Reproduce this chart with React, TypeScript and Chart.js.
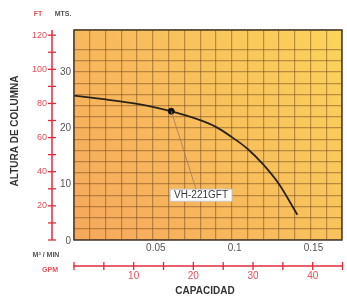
import React, { useEffect, useRef } from 'react';
import Chart from 'chart.js/auto';

// Pump curve (m³/min vs metres of head)
const flowM3min = [0, 0.02, 0.04, 0.06, 0.08, 0.09, 0.1, 0.11, 0.12, 0.13, 0.1417];
const headM = [25.8, 25.1, 24.3, 23.1, 21.4, 20.2, 18.4, 16.3, 13.5, 10.0, 4.5];
const markerFlow = [0.0617];
const markerHead = [23.0];
const modelName = 'VH-221GFT';
const labelFlow = 0.0806;
const labelHead = 8.0;

const xMin = 0;
const xMax = 0.17;
const yMin = 0;
const yMax = 37.5;
const xLabelTicks = [0.05, 0.1, 0.15];
const mLabelTicks = [0, 10, 20, 30];
const ftLabelTicks = [20, 40, 60, 80, 100, 120];
const ftTickMarks = [0, 10, 20, 30, 40, 50, 60, 70, 80, 90, 100, 110, 120];
const gpmLabelTicks = [10, 20, 30, 40];
const gpmTickMarks = [0, 5, 10, 15, 20, 25, 30, 35, 40, 45];

const M_PER_FT = 0.3048;
const M3MIN_PER_GPM = 0.00378541;

const RED_LINE = '#e02a3c';
const RED_TEXT = '#e4505c';
const GRAY_TEXT = '#555555';
const DARK = '#333333';
const FONT = '"Liberation Sans Narrow", "Liberation Sans", Arial, sans-serif';
const GRID = 'rgba(120,78,32,0.5)';

const bgPlugin = {
  id: 'bgPlugin',
  beforeDraw(chart: any) {
    const { ctx, chartArea } = chart;
    const { left, top, right, bottom } = chartArea;
    const g = ctx.createLinearGradient(left, bottom, right, top);
    g.addColorStop(0, '#f6a85c');
    g.addColorStop(0.5, '#f8bd5c');
    g.addColorStop(1, '#fbd45a');
    ctx.save();
    ctx.fillStyle = g;
    ctx.fillRect(left, top, right - left, bottom - top);
    ctx.restore();
  },
};

const overlayPlugin = {
  id: 'overlayPlugin',
  afterDraw(chart: any) {
    const { ctx, chartArea } = chart;
    const { left, top, right, bottom } = chartArea;
    const xs = chart.scales.x;
    const ys = chart.scales.y;
    ctx.save();

    // frame
    ctx.strokeStyle = '#4a3c2c';
    ctx.lineWidth = 1.5;
    ctx.strokeRect(left, top, right - left, bottom - top);

    // metric y labels
    ctx.fillStyle = GRAY_TEXT;
    ctx.font = `10px ${FONT}`;
    ctx.textAlign = 'right';
    ctx.textBaseline = 'middle';
    mLabelTicks.forEach((v) => {
      ctx.fillText(String(v), left - 3, ys.getPixelForValue(v) + (v === 0 ? 1 : 0));
    });

    // metric x labels
    ctx.textAlign = 'center';
    ctx.textBaseline = 'middle';
    xLabelTicks.forEach((v) => {
      ctx.fillText(String(v), xs.getPixelForValue(v) + 3, bottom + 8);
    });

    // FT axis
    const ftX = 52;
    ctx.strokeStyle = RED_LINE;
    ctx.lineWidth = 1.5;
    ctx.beginPath();
    ctx.moveTo(ftX, top);
    ctx.lineTo(ftX, bottom);
    ctx.stroke();
    ctx.lineWidth = 1.3;
    ftTickMarks.forEach((v) => {
      const py = ys.getPixelForValue(v * M_PER_FT);
      ctx.beginPath();
      ctx.moveTo(ftX - 4, py);
      ctx.lineTo(ftX + 4, py);
      ctx.stroke();
    });
    ctx.fillStyle = RED_TEXT;
    ctx.font = `9px ${FONT}`;
    ctx.textAlign = 'right';
    ctx.textBaseline = 'middle';
    ftLabelTicks.forEach((v) => {
      ctx.fillText(String(v), ftX - 5, ys.getPixelForValue(v * M_PER_FT));
    });

    // GPM axis
    const gY = 266;
    ctx.strokeStyle = RED_LINE;
    ctx.lineWidth = 1.5;
    ctx.beginPath();
    ctx.moveTo(left - 1, gY);
    ctx.lineTo(right + 1, gY);
    ctx.stroke();
    ctx.lineWidth = 1.3;
    gpmTickMarks.forEach((v) => {
      const px = Math.min(xs.getPixelForValue(v * M3MIN_PER_GPM), right + 1);
      ctx.beginPath();
      ctx.moveTo(px, gY - 4);
      ctx.lineTo(px, gY + 4);
      ctx.stroke();
    });
    ctx.fillStyle = RED_TEXT;
    ctx.font = `10px ${FONT}`;
    ctx.textAlign = 'center';
    ctx.textBaseline = 'middle';
    gpmLabelTicks.forEach((v) => {
      ctx.fillText(String(v), xs.getPixelForValue(v * M3MIN_PER_GPM), gY + 10);
    });

    // unit labels
    ctx.font = `bold 7px ${FONT}`;
    ctx.textAlign = 'center';
    ctx.fillStyle = RED_TEXT;
    ctx.fillText('FT', 38, 14);
    ctx.fillText('GPM', 50, 270);
    ctx.fillStyle = GRAY_TEXT;
    ctx.fillText('MTS.', 63, 14);
    ctx.fillText('M³ / MIN', 46, 255);

    // titles
    ctx.fillStyle = DARK;
    ctx.font = `bold 10px "Liberation Sans", Arial, sans-serif`;
    ctx.textAlign = 'center';
    ctx.fillText('CAPACIDAD', 205, 291);
    ctx.save();
    ctx.translate(15, 131);
    ctx.rotate(-Math.PI / 2);
    ctx.fillText('ALTURA DE COLUMNA', 0, 0);
    ctx.restore();

    // annotation
    const mx = xs.getPixelForValue(markerFlow[0]);
    const my = ys.getPixelForValue(markerHead[0]);
    const lx = xs.getPixelForValue(labelFlow);
    const ly = ys.getPixelForValue(labelHead);
    ctx.font = `10px "Liberation Sans", Arial, sans-serif`;
    const tw = ctx.measureText(modelName).width;
    const bw = tw + 8;
    const bh = 12;
    ctx.strokeStyle = '#a07a58';
    ctx.lineWidth = 0.8;
    ctx.beginPath();
    ctx.moveTo(mx, my);
    ctx.lineTo(lx - 5, ly - bh / 2);
    ctx.stroke();
    ctx.fillStyle = '#ffffff';
    ctx.strokeStyle = '#c8c8c8';
    ctx.lineWidth = 1;
    ctx.fillRect(lx - bw / 2, ly - bh / 2, bw, bh);
    ctx.strokeRect(lx - bw / 2, ly - bh / 2, bw, bh);
    ctx.fillStyle = '#3a3a3a';
    ctx.textAlign = 'center';
    ctx.textBaseline = 'middle';
    ctx.fillText(modelName, lx, ly + 0.5);

    ctx.restore();
  },
};

export default function App() {
  const ref = useRef<HTMLCanvasElement | null>(null);
  useEffect(() => {
    if (!ref.current) return;
    const curve = flowM3min.map((x, i) => ({ x, y: headM[i] }));
    const marker = markerFlow.map((x, i) => ({ x, y: markerHead[i] }));
    const chart = new Chart(ref.current, {
      type: 'scatter',
      data: {
        datasets: [
          {
            data: marker,
            showLine: false,
            pointRadius: 3,
            pointBackgroundColor: '#111',
            pointBorderColor: '#111',
            order: 0,
          },
          {
            data: curve,
            showLine: true,
            borderColor: '#2b2218',
            borderWidth: 1.8,
            pointRadius: 0,
            tension: 0.4,
            cubicInterpolationMode: 'monotone',
            order: 1,
          },
        ],
      } as any,
      options: {
        responsive: false,
        animation: false,
        layout: { padding: { left: 74, top: 30, right: 3, bottom: 57 } },
        plugins: { legend: { display: false }, tooltip: { enabled: false } },
        scales: {
          x: {
            type: 'linear',
            min: xMin,
            max: xMax,
            afterFit: (s: any) => {
              s.height = 0;
            },
            ticks: { display: false, stepSize: 0.01 },
            grid: { color: GRID, lineWidth: 1.2, drawTicks: false },
            border: { display: false },
          },
          y: {
            type: 'linear',
            min: yMin,
            max: yMax,
            afterFit: (s: any) => {
              s.width = 0;
            },
            ticks: { display: false, stepSize: 2 },
            grid: { color: GRID, lineWidth: 1.2, drawTicks: false },
            border: { display: false },
          },
        },
      } as any,
      plugins: [bgPlugin, overlayPlugin],
    });
    return () => chart.destroy();
  }, []);
  return (
    <div style={{ position: 'absolute', left: 0, top: 0, width: 347, height: 297, background: '#fff' }}>
      <canvas ref={ref} width={347} height={297} style={{ display: 'block' }} />
    </div>
  );
}
